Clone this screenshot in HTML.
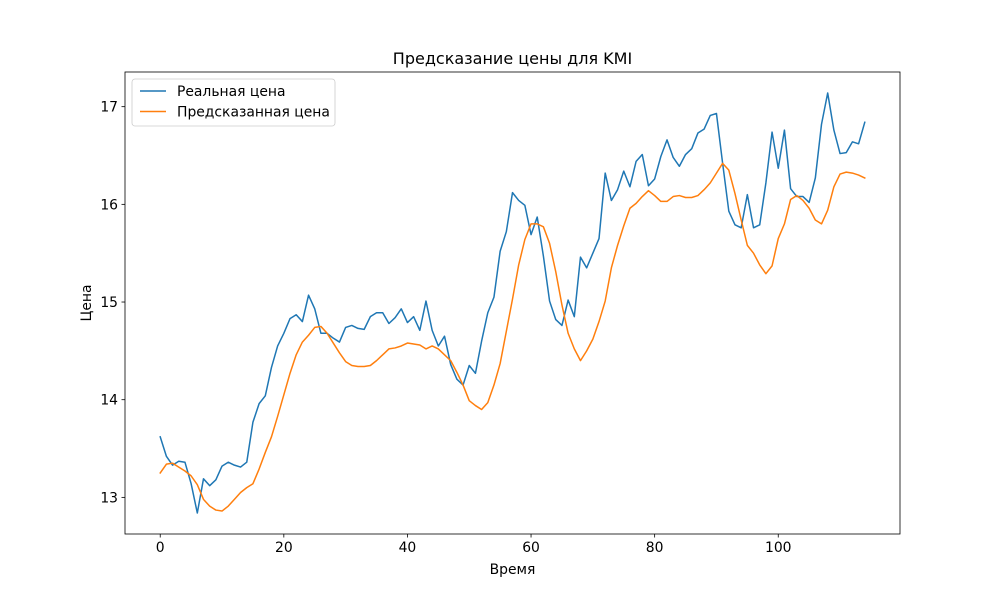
<!DOCTYPE html>
<html><head><meta charset="utf-8"><style>
body{margin:0;background:#fff}
svg{font-family:"DejaVu Sans","Liberation Sans",sans-serif}
</style></head><body>
<svg id="chart" width="1000" height="600"></svg>
<script>
const realPrice=[13.62,13.42,13.33,13.37,13.36,13.14,12.84,13.19,13.12,13.18,13.32,13.36,13.33,13.31,13.36,13.77,13.96,14.04,14.33,14.55,14.68,14.83,14.87,14.80,15.07,14.93,14.68,14.68,14.63,14.59,14.74,14.76,14.73,14.72,14.85,14.89,14.89,14.78,14.84,14.93,14.79,14.85,14.71,15.01,14.71,14.55,14.65,14.36,14.21,14.15,14.35,14.27,14.60,14.89,15.05,15.52,15.72,16.12,16.04,15.99,15.69,15.87,15.47,15.01,14.82,14.76,15.02,14.85,15.46,15.35,15.50,15.65,16.32,16.04,16.15,16.34,16.18,16.44,16.51,16.19,16.26,16.49,16.66,16.48,16.39,16.51,16.57,16.73,16.77,16.91,16.93,16.42,15.93,15.79,15.76,16.10,15.76,15.79,16.22,16.74,16.37,16.76,16.16,16.08,16.08,16.02,16.27,16.82,17.14,16.76,16.52,16.53,16.64,16.62,16.84];
const predPrice=[13.25,13.34,13.35,13.31,13.27,13.22,13.13,12.98,12.91,12.87,12.86,12.91,12.98,13.05,13.10,13.14,13.29,13.46,13.62,13.83,14.05,14.27,14.46,14.59,14.66,14.74,14.75,14.68,14.58,14.48,14.39,14.35,14.34,14.34,14.35,14.40,14.46,14.52,14.53,14.55,14.58,14.57,14.56,14.52,14.55,14.52,14.46,14.40,14.28,14.15,13.99,13.94,13.90,13.97,14.15,14.37,14.70,15.03,15.38,15.64,15.80,15.80,15.77,15.60,15.31,14.97,14.68,14.52,14.40,14.50,14.62,14.80,15.01,15.35,15.58,15.78,15.96,16.01,16.08,16.14,16.09,16.03,16.03,16.08,16.09,16.07,16.07,16.09,16.15,16.22,16.32,16.42,16.35,16.11,15.84,15.58,15.50,15.38,15.29,15.37,15.65,15.80,16.05,16.09,16.04,15.96,15.84,15.80,15.94,16.18,16.31,16.33,16.32,16.30,16.27];
const xTicks=[0,20,40,60,80,100];
const yTicks=[13,14,15,16,17];
const seriesNames=["Реальная цена","Предсказанная цена"];

const NS="http://www.w3.org/2000/svg";
const svg=document.getElementById('chart');
const L=125,R=900,T=72,B=534;
const n=Math.max(realPrice.length,predPrice.length)-1;
const xm=n*0.05, xmin=-xm, xmax=n+xm;
const all=realPrice.concat(predPrice);
let dmin=Math.min(...all), dmax=Math.max(...all);
const ym=(dmax-dmin)*0.05, ymin=dmin-ym, ymax=dmax+ym;
const X=v=>L+(v-xmin)/(xmax-xmin)*(R-L);
const Y=v=>B-(v-ymin)/(ymax-ymin)*(B-T);
function el(tag,attrs,parent){const e=document.createElementNS(NS,tag);for(const k in attrs)e.setAttribute(k,attrs[k]);(parent||svg).appendChild(e);return e;}

const colors=['#1f77b4','#ff7f0e'];
[realPrice,predPrice].forEach((s,si)=>{
  const p=el('polyline',{points:s.map((v,i)=>X(i).toFixed(2)+','+Y(v).toFixed(2)).join(' '),fill:'none',stroke:colors[si],'stroke-width':1.5,'stroke-linejoin':'round','stroke-linecap':'square'});
  
  
});
const frame=el('rect',{x:L,y:T,width:R-L,height:B-T,fill:'none',stroke:'#000','stroke-width':0.8});



xTicks.forEach(t=>{
  const x=X(t);
  const tk=el('line',{x1:x,x2:x,y1:B,y2:B+3.5,stroke:'#000','stroke-width':0.8});
  
  
  const tx=el('text',{x:x,y:B+18,'text-anchor':'middle','font-size':13.9});
  tx.textContent=t;
  
  
});
yTicks.forEach(t=>{
  const y=Y(t);
  const tk=el('line',{x1:L-3.5,x2:L,y1:y,y2:y,stroke:'#000','stroke-width':0.8});
  
  
  const tx=el('text',{x:L-7,y:y+5,'text-anchor':'end','font-size':13.9});
  tx.textContent=t;
  
  
});

const title=el('text',{x:(L+R)/2,y:64,'text-anchor':'middle','font-size':16});
title.textContent='Предсказание цены для KMI';


const xl=el('text',{x:(L+R)/2,y:574,'text-anchor':'middle','font-size':13.9});
xl.textContent='Время';


const yl=el('text',{x:0,y:0,'text-anchor':'middle','font-size':13.9,transform:'translate(91,'+((T+B)/2)+') rotate(-90)'});
yl.textContent='Цена';



const lg=el('g',{});


el('rect',{x:132,y:79,width:203,height:47,rx:3,fill:'#fff','fill-opacity':0.8,stroke:'#ccc','stroke-width':0.8},lg);
seriesNames.forEach((nm,i)=>{
  const y=91+i*20.5;
  const g=el('g',{},lg);
  
  
  el('line',{x1:140,x2:166,y1:y,y2:y,stroke:colors[i],'stroke-width':1.5},g);
  const t=el('text',{x:177,y:y+5,'font-size':13.9},g);
  t.textContent=nm;
});
</script>
</body></html>
